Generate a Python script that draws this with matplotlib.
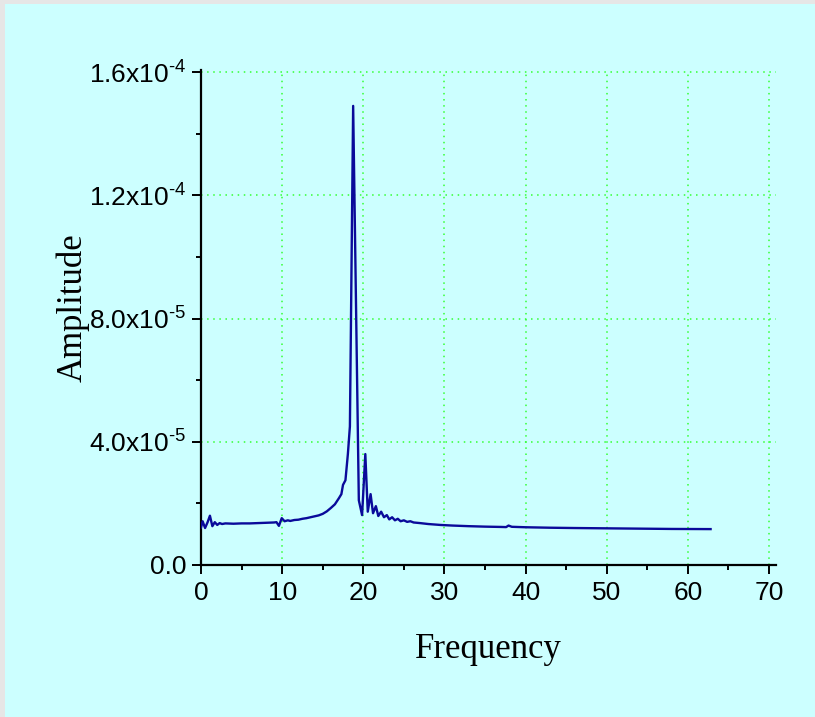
import matplotlib
matplotlib.use("Agg")
import matplotlib.pyplot as plt
from matplotlib.patches import Rectangle
from matplotlib.ticker import FixedLocator, MultipleLocator

# ---- data ----
frequency = [0.0, 0.2, 0.5, 0.8, 1.1, 1.4, 1.7, 2.0, 2.3, 2.6, 3.0, 4.0, 5.0, 6.0,
             7.0, 8.0, 9.0, 9.3, 9.6, 9.95, 10.3, 10.7, 11.0, 11.5, 12.0, 12.5,
             13.0, 13.5, 14.0, 14.5, 15.0, 15.5, 16.0, 16.5, 17.0, 17.3, 17.5,
             17.8, 18.1, 18.35, 18.75, 19.45, 19.85, 20.25, 20.55, 20.9, 21.2,
             21.55, 21.85, 22.2, 22.55, 22.9, 23.2, 23.55, 23.9, 24.25, 24.6,
             25.0, 25.4, 25.8, 26.2, 27.0, 28.0, 29.5, 31.0, 33.0, 35.0, 37.0,
             37.6, 37.9, 38.3, 40.0, 43.0, 46.0, 50.0, 54.0, 58.0, 62.8]
amplitude = [1.22e-5, 1.42e-5, 1.20e-5, 1.38e-5, 1.60e-5, 1.26e-5, 1.39e-5, 1.30e-5,
             1.36e-5, 1.33e-5, 1.35e-5, 1.34e-5, 1.35e-5, 1.35e-5, 1.36e-5, 1.37e-5,
             1.38e-5, 1.39e-5, 1.27e-5, 1.52e-5, 1.42e-5, 1.45e-5, 1.43e-5, 1.46e-5,
             1.47e-5, 1.50e-5, 1.52e-5, 1.55e-5, 1.58e-5, 1.61e-5, 1.66e-5, 1.74e-5,
             1.85e-5, 1.97e-5, 2.17e-5, 2.30e-5, 2.60e-5, 2.75e-5, 3.60e-5, 4.50e-5,
             1.49e-4, 2.10e-5, 1.62e-5, 3.60e-5, 1.73e-5, 2.30e-5, 1.68e-5, 1.91e-5,
             1.59e-5, 1.73e-5, 1.55e-5, 1.62e-5, 1.48e-5, 1.55e-5, 1.45e-5, 1.50e-5,
             1.42e-5, 1.45e-5, 1.40e-5, 1.42e-5, 1.38e-5, 1.36e-5, 1.33e-5, 1.30e-5,
             1.28e-5, 1.26e-5, 1.245e-5, 1.235e-5, 1.23e-5, 1.28e-5, 1.24e-5,
             1.225e-5, 1.21e-5, 1.20e-5, 1.19e-5, 1.18e-5, 1.17e-5, 1.165e-5]

x_ticks = [0, 10, 20, 30, 40, 50, 60, 70]
y_ticks = [0.0, 4.0e-5, 8.0e-5, 1.2e-4, 1.6e-4]
y_tick_labels = ["0.0", "4.0x10$^{\\text{-}5}$", "8.0x10$^{\\text{-}5}$",
                 "1.2x10$^{\\text{-}4}$", "1.6x10$^{\\text{-}4}$"]
x_label = "Frequency"
y_label = "Amplitude"

# ---- style ----
plt.rcParams["font.family"] = ["Liberation Sans", "DejaVu Sans"]
plt.rcParams["mathtext.fontset"] = "custom"
plt.rcParams["mathtext.rm"] = "Liberation Sans"
plt.rcParams["mathtext.default"] = "regular"

bg = "#CCFFFF"
fig = plt.figure(figsize=(8.15, 7.17), dpi=100)
fig.patch.set_facecolor("#E6E6E6")
fig.patches.append(Rectangle((5 / 815, 0), 1, 1 - 4 / 717, transform=fig.transFigure,
                             facecolor=bg, edgecolor="none", zorder=-10))

ax = fig.add_axes([201 / 815, 152 / 717, 575 / 815, 495 / 717])
ax.set_facecolor("none")
ax.plot(frequency, amplitude, color="#0A0A9A", lw=1.7, zorder=3)

ax.set_xlim(0, 70.86)
ax.set_ylim(0, 1.6065e-4)

ax.xaxis.set_major_locator(FixedLocator(x_ticks))
ax.xaxis.set_minor_locator(MultipleLocator(5))
ax.yaxis.set_major_locator(FixedLocator(y_ticks))
ax.yaxis.set_minor_locator(MultipleLocator(2e-5))
ax.set_yticklabels(y_tick_labels)
ax.set_xticklabels([str(v) for v in x_ticks])

for s in ["top", "right"]:
    ax.spines[s].set_visible(False)
for s in ["left", "bottom"]:
    ax.spines[s].set_linewidth(1.6)

ax.tick_params(which="major", direction="out", length=6.5, width=1.4, labelsize=19, pad=4)
ax.tick_params(axis="x", which="major", pad=5)
ax.tick_params(which="minor", direction="out", length=3.5, width=1.4)

ax.grid(True, which="major", color="#33FF33", linestyle=(0, (1, 3)), linewidth=1.1, zorder=1)
ax.set_axisbelow(True)

ax.set_xlabel(x_label, fontsize=25, family=["Liberation Serif"], labelpad=20)
ax.set_ylabel(y_label, fontsize=25, family=["Liberation Serif"])
ax.yaxis.set_label_coords((90 - 201) / 575, 0.52)

fig.savefig("out.png", dpi=100, facecolor=fig.get_facecolor())
